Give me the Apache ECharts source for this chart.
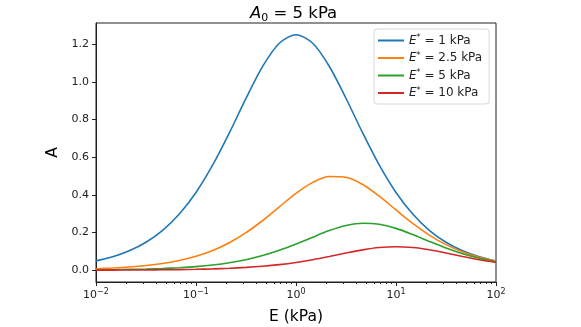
<!DOCTYPE html>
<html>
<head>
<meta charset="utf-8">
<script src="https://cdn.jsdelivr.net/npm/echarts@6/dist/echarts.min.js"></script>
<style>
  html, body { margin: 0; padding: 0; background: #fff; }
  #main { width: 581px; height: 327px; }
</style>
</head>
<body>
<div id="main"></div>
<script>
// E (kPa) sample points, six per decade
let eValues = [0.01, 0.0147, 0.0215, 0.0316, 0.0464, 0.0681, 0.1, 0.147, 0.215, 0.316, 0.464, 0.681, 1, 1.47, 2.15, 3.16, 4.64, 6.81, 10, 14.7, 21.5, 31.6, 46.4, 68.1, 100]
let seriesNames = ['E* = 1 kPa', 'E* = 2.5 kPa', 'E* = 5 kPa', 'E* = 10 kPa']
let seriesLabels = ['1', '2.5', '5', '10']
let aStar1 = [0.0495, 0.0714, 0.103, 0.1485, 0.212, 0.2985, 0.413, 0.559, 0.728, 0.912, 1.082, 1.205, 1.25, 1.205, 1.083, 0.913, 0.729, 0.558, 0.413, 0.298, 0.212, 0.1487, 0.1033, 0.0713, 0.049]
let aStar25 = [0.0079, 0.0116, 0.0169, 0.0247, 0.0358, 0.0516, 0.074, 0.1049, 0.1458, 0.1992, 0.264, 0.3365, 0.408, 0.4663, 0.4972, 0.4932, 0.455, 0.3928, 0.32, 0.2484, 0.1866, 0.1359, 0.097, 0.0683, 0.0476]
let aStar5 = [0.002, 0.0029, 0.0043, 0.0062, 0.0091, 0.0133, 0.0192, 0.0277, 0.0395, 0.0559, 0.0777, 0.1055, 0.1389, 0.1756, 0.2103, 0.2373, 0.2497, 0.2441, 0.2222, 0.1894, 0.1531, 0.118, 0.0878, 0.0637, 0.0454]
let aStar10 = [0.0005, 0.0007, 0.0011, 0.0016, 0.0023, 0.0034, 0.0049, 0.0071, 0.0103, 0.0149, 0.0212, 0.0298, 0.0413, 0.0559, 0.0728, 0.0912, 0.1082, 0.1205, 0.125, 0.1205, 0.1083, 0.0913, 0.0729, 0.0558, 0.0413]
let yTicks = [0, 0.2, 0.4, 0.6, 0.8, 1.0, 1.2]
let xTicks = [0.01, 0.1, 1, 10, 100]
let xMinorTicks = [0.02, 0.03, 0.04, 0.05, 0.06, 0.07, 0.08, 0.09, 0.2, 0.3, 0.4, 0.5, 0.6, 0.7, 0.8, 0.9, 2, 3, 4, 5, 6, 7, 8, 9, 20, 30, 40, 50, 60, 70, 80, 90]
let colors = ['#1f77b4', '#ff7f0e', '#2ca02c', '#d62728']

let font = 'DejaVu Sans'
let allValues = [aStar1, aStar25, aStar5, aStar10]

function pairs (ys) {
  return eValues.map(function (x, i) { return [x, ys[i]] })
}

let chart = echarts.init(document.getElementById('main'))
let option = {
  animation: false,
  backgroundColor: '#fff',
  color: colors,
  textStyle: { fontFamily: font },
  title: {
    text: '{i|A}{s|0}{t| = 5 kPa}',
    left: 245,
    top: -1,
    textStyle: {
      fontWeight: 'normal',
      rich: {
        i: { fontFamily: font, fontStyle: 'italic', fontWeight: 'normal', fontSize: 16.5, color: '#000' },
        s: { fontFamily: font, fontWeight: 'normal', fontSize: 11, color: '#000', padding: [9, 0, 0, 0] },
        t: { fontFamily: font, fontWeight: 'normal', fontSize: 16.5, color: '#000' }
      }
    }
  },
  legend: {
    orient: 'vertical',
    left: 374,
    top: 29,
    padding: [5, 7, 5, 4],
    itemGap: 5,
    itemWidth: 26,
    itemHeight: 2,
    icon: 'rect',
    backgroundColor: 'rgba(255,255,255,0.8)',
    borderColor: '#d8d8d8',
    borderWidth: 1,
    borderRadius: 3,
    data: seriesNames,
    formatter: function (name) {
      let idx = seriesNames.indexOf(name)
      return '{i|E}{s|*}{t| = ' + seriesLabels[idx] + ' kPa}'
    },
    textStyle: {
      rich: {
        i: { fontFamily: font, fontStyle: 'italic', fontSize: 12, color: '#222', lineHeight: 14 },
        s: { fontFamily: font, fontSize: 8, color: '#222', padding: [0, 0, 5, 0] },
        t: { fontFamily: font, fontSize: 12, color: '#222', lineHeight: 14 }
      }
    }
  },
  grid: {
    left: 96,
    right: 85,
    top: 23,
    bottom: 45,
    containLabel: false,
    outerBoundsMode: 'none',
    show: true,
    borderColor: '#222',
    borderWidth: 1,
    backgroundColor: 'transparent'
  },
  xAxis: [
    {
      type: 'log',
      logBase: 10,
      min: 0.01,
      max: 100,
      name: 'E (kPa)',
      nameLocation: 'middle',
      nameGap: 27,
      nameTextStyle: { fontFamily: font, fontSize: 15.5, color: '#000' },
      axisLine: { onZero: false, lineStyle: { color: '#222', width: 1 } },
      axisTick: { customValues: xTicks, length: 4, lineStyle: { color: '#222' } },
      splitLine: { show: false },
      axisLabel: {
        customValues: xTicks,
        margin: 6,
        formatter: function (v) {
          let p = Math.round(Math.log10(v))
          return '{b|10}{p|' + (p < 0 ? '\u2212' + (-p) : p) + '}'
        },
        rich: {
          b: { fontFamily: font, fontSize: 11, color: '#222' },
          p: { fontFamily: font, fontSize: 8, color: '#222', padding: [0, 0, 7, 0] }
        }
      }
    },
    {
      type: 'log',
      logBase: 10,
      min: 0.01,
      max: 100,
      gridIndex: 0,
      position: 'bottom',
      axisLine: { show: false, onZero: false },
      axisTick: { customValues: xMinorTicks, length: 2, lineStyle: { color: '#222' } },
      axisLabel: { show: false },
      splitLine: { show: false }
    }
  ],
  yAxis: {
    type: 'value',
    min: -0.0625,
    max: 1.3125,
    name: 'A',
    nameLocation: 'middle',
    nameGap: 28,
    nameRotate: 90,
    nameTextStyle: { fontFamily: font, fontSize: 15.5, color: '#000' },
    axisLine: { show: true, onZero: false, lineStyle: { color: '#222', width: 1 } },
    axisTick: { show: true, customValues: yTicks, length: 4, lineStyle: { color: '#222' } },
    splitLine: { show: false },
    axisLabel: {
      customValues: yTicks,
      margin: 7,
      fontFamily: font,
      fontSize: 11,
      color: '#222',
      formatter: function (v) { return v.toFixed(1) }
    }
  },
  series: seriesNames.map(function (name, i) {
    return {
      name: name,
      type: 'line',
      xAxisIndex: 0,
      symbol: 'none',
      smooth: 0.3,
      lineStyle: { width: 1.6, color: colors[i] },
      data: pairs(allValues[i])
    }
  })
}
chart.setOption(option)
</script>
</body>
</html>
